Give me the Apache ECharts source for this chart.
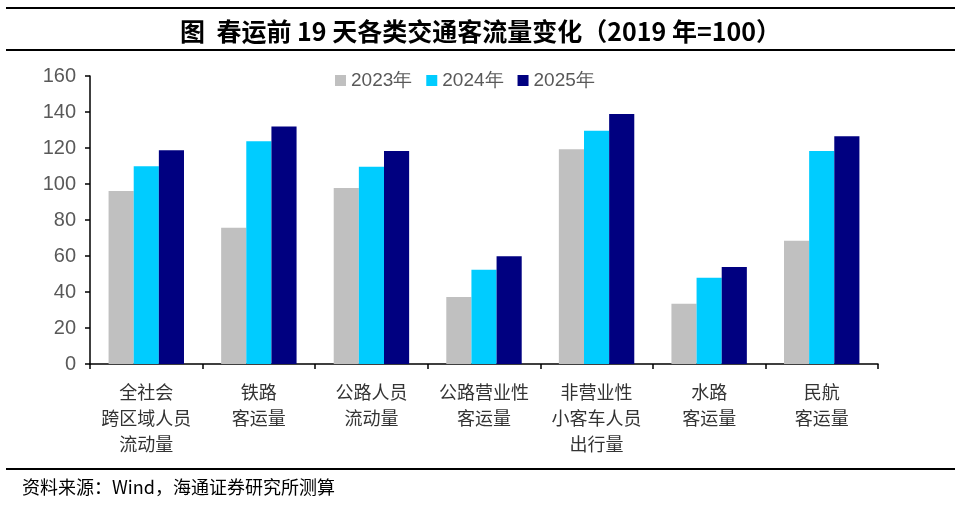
<!DOCTYPE html>
<html>
<head>
<meta charset="utf-8">
<script src="https://cdn.jsdelivr.net/npm/echarts@6/dist/echarts.min.js"></script>
<style>
html,body{margin:0;padding:0;background:#fff;}
#c{width:961px;height:505px;}
</style>
</head>
<body>
<div id="c"></div>
<script>
const categories = ['全社会\n跨区域人员\n流动量','铁路\n客运量','公路人员\n流动量','公路营业性\n客运量','非营业性\n小客车人员\n出行量','水路\n客运量','民航\n客运量'];
const seriesNames = ['2023年','2024年','2025年'];
const values2023 = [96.1, 75.7, 97.8, 37.2, 119.3, 33.5, 68.5];
const values2024 = [109.8, 123.7, 109.6, 52.4, 129.6, 47.9, 118.3];
const values2025 = [118.7, 132.0, 118.3, 59.8, 138.9, 53.9, 126.5];
const yTicks = [0, 20, 40, 60, 80, 100, 120, 140, 160];

const colors = ['#C0C0C0', '#00CCFF', '#000080'];
const cjk = '"Noto Sans CJK SC", sans-serif';
const chart = echarts.init(document.getElementById('c'));
const data = [values2023, values2024, values2025];
chart.setOption({
  animation: false,
  title: {
    text: '图  春运前 19 天各类交通客流量变化（2019 年=100）',
    left: 'center', top: 14,
    textStyle: {fontFamily: cjk, fontSize: 25, fontWeight: 'bold', color: '#000'}
  },
  legend: {
    data: seriesNames, top: 66, left: 330, itemGap: 14,
    itemWidth: 11, itemHeight: 11, icon: 'rect',
    textStyle: {fontFamily: '"Liberation Sans", Arial, sans-serif', fontSize: 19, color: '#595959'}
  },
  grid: {left: 90, right: 83, top: 76, bottom: 141},
  xAxis: {
    type: 'category', data: categories,
    axisLine: {lineStyle: {color: '#000', width: 1.5}},
    axisTick: {show: true, alignWithLabel: false, length: 5, lineStyle: {color: '#000', width: 1.5}},
    axisLabel: {fontFamily: cjk, fontSize: 18, color: '#333', lineHeight: 26, margin: 15, interval: 0}
  },
  yAxis: {
    type: 'value', min: yTicks[0], max: yTicks[yTicks.length - 1], interval: 20,
    axisLine: {show: true, lineStyle: {color: '#000', width: 1.5}},
    axisTick: {show: true, inside: false, length: 5, lineStyle: {color: '#000', width: 1.5}},
    splitLine: {show: false},
    axisLabel: {fontFamily: '"Liberation Sans", Arial, sans-serif', fontSize: 20, color: '#595959', margin: 14}
  },
  series: seriesNames.map((n, i) => ({
    name: n, type: 'bar', data: data[i], barGap: '0%', barCategoryGap: '33%',
    itemStyle: {color: colors[i]}
  })),
  graphic: [
    {type: 'line', shape: {x1: 6, y1: 8, x2: 955, y2: 8}, style: {stroke: '#000', lineWidth: 2}},
    {type: 'line', shape: {x1: 6, y1: 50, x2: 955, y2: 50}, style: {stroke: '#000', lineWidth: 2}},
    {type: 'line', shape: {x1: 6, y1: 469, x2: 955, y2: 469}, style: {stroke: '#000', lineWidth: 2}},
    {type: 'text', left: 22, top: 478, style: {text: '资料来源：Wind，海通证券研究所测算', font: '18px "Noto Sans CJK SC", sans-serif', fill: '#000'}}
  ]
});
</script>
</body>
</html>
